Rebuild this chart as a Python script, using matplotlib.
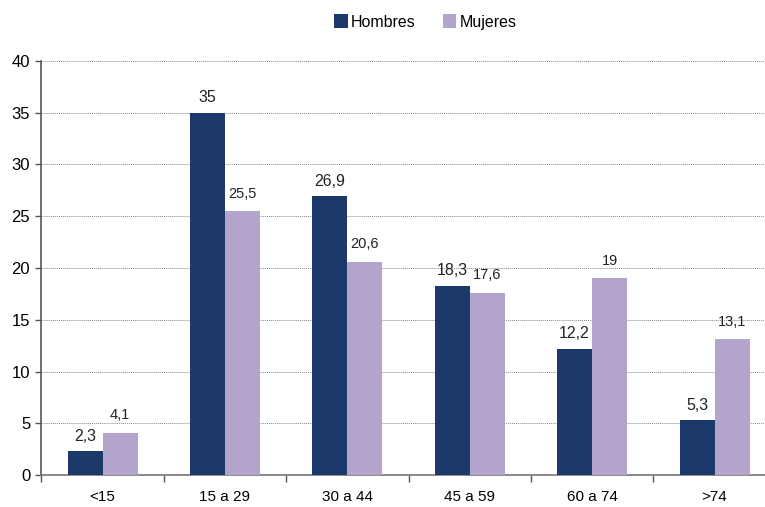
import matplotlib
matplotlib.use("Agg")
import matplotlib.pyplot as plt
import numpy as np

grupos = ["<15", "15 a 29", "30 a 44", "45 a 59", "60 a 74", ">74"]
hombres = [2.3, 35, 26.9, 18.3, 12.2, 5.3]
mujeres = [4.1, 25.5, 20.6, 17.6, 19, 13.1]

COLOR_H = "#1b3a6b"
COLOR_M = "#b3a4cb"


def coma(v):
    return f"{v:g}".replace(".", ",")


plt.rcParams["font.family"] = ["Liberation Sans", "DejaVu Sans"]

fig = plt.figure(figsize=(7.65, 5.07), dpi=100)
# the last category cell runs a little past the right edge of the figure
ax = fig.add_axes([0.054, 0.063, 0.96, 0.817])

x = np.arange(len(grupos))
w = 0.286
bh = ax.bar(x - w / 2, hombres, w, color=COLOR_H, label="Hombres", zorder=3)
bm = ax.bar(x + w / 2, mujeres, w, color=COLOR_M, label="Mujeres", zorder=3)

for rect, v in zip(bh, hombres):
    ax.annotate(coma(v), (rect.get_x() + rect.get_width() / 2, v),
                xytext=(0, 5.5), textcoords="offset points",
                ha="center", va="bottom", fontsize=11.5, color="#222222")
for rect, v in zip(bm, mujeres):
    ax.annotate(coma(v), (rect.get_x() + rect.get_width() / 2, v),
                xytext=(0, 7.5), textcoords="offset points",
                ha="center", va="bottom", fontsize=10.5, color="#222222")

ax.set_xlim(-0.5, len(grupos) - 0.5)
ax.set_ylim(0, 40)
ax.set_yticks(range(0, 41, 5))
ax.yaxis.grid(True, linestyle=(0, (1, 1)), color="#8a8a8a", linewidth=0.7, zorder=0)
ax.set_axisbelow(True)

ax.set_xticks(x)
ax.set_xticklabels(grupos)
ax.set_xticks(np.arange(-0.5, len(grupos), 1), minor=True)
ax.tick_params(axis="x", which="major", length=0, pad=11, labelsize=11)
ax.tick_params(axis="x", which="minor", length=5, width=1, color="#555555")
ax.tick_params(axis="y", length=4, width=1, color="#555555", labelsize=12, pad=4)

for side in ["top", "right"]:
    ax.spines[side].set_visible(False)
ax.spines["left"].set_color("#555555")
ax.spines["bottom"].set_color("#777777")
ax.spines["left"].set_linewidth(1.2)
ax.spines["bottom"].set_linewidth(1.2)

fig.legend(handles=[bh, bm], loc="center", bbox_to_anchor=(0.556, 0.957),
           ncol=2, frameon=False, fontsize=11.5, handlelength=0.85,
           handleheight=1.0, handletextpad=0.2, columnspacing=1.7)

fig.savefig("out.png", dpi=100)
